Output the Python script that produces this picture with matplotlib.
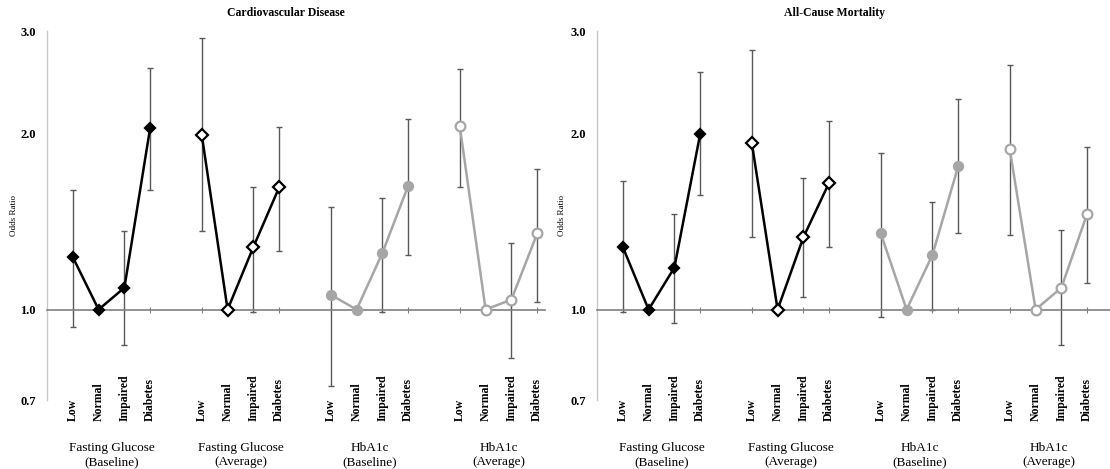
import numpy as np
import matplotlib
matplotlib.use("Agg")
import matplotlib.pyplot as plt
import matplotlib.transforms as mtransforms

plt.rcParams['font.family'] = ['Liberation Serif', 'DejaVu Serif']

categories = ["Low", "Normal", "Impaired", "Diabetes"]
groups = ["Fasting Glucose\n(Baseline)", "Fasting Glucose\n(Average)",
          "HbA1c\n(Baseline)", "HbA1c\n(Average)"]
panel_titles = ["Cardiovascular Disease", "All-Cause Mortality"]
ytick_vals = [0.7, 1.0, 2.0, 3.0]
ytick_labels = ["0.7", "1.0", "2.0", "3.0"]

# Cardiovascular disease: odds ratio, lower CI, upper CI (None = reference)
cvd_or = [[1.23, 1.00, 1.09, 2.05],
          [1.99, 1.00, 1.28, 1.62],
          [1.06, 1.00, 1.25, 1.63],
          [2.06, 1.00, 1.04, 1.35]]
cvd_lo = [[0.935, None, 0.87, 1.60],
          [1.365, None, 0.99, 1.26],
          [0.74, None, 0.99, 1.24],
          [1.62, None, 0.825, 1.03]]
cvd_hi = [[1.60, None, 1.365, 2.59],
          [2.92, None, 1.62, 2.055],
          [1.50, None, 1.55, 2.12],
          [2.58, None, 1.30, 1.74]]

# All-cause mortality
acm_or = [[1.28, 1.00, 1.18, 2.00],
          [1.93, 1.00, 1.33, 1.65],
          [1.35, 1.00, 1.24, 1.76],
          [1.88, 1.00, 1.09, 1.46]]
acm_lo = [[0.99, None, 0.95, 1.57],
          [1.33, None, 1.05, 1.28],
          [0.97, None, 1.00, 1.35],
          [1.34, None, 0.87, 1.11]]
acm_hi = [[1.66, None, 1.46, 2.55],
          [2.78, None, 1.68, 2.105],
          [1.855, None, 1.53, 2.29],
          [2.62, None, 1.367, 1.90]]

styles = [
    dict(color='black', marker='D', mfc='black', mec='black', ms=5.0),
    dict(color='black', marker='D', mfc='white', mec='black', ms=6.0),
    dict(color='#a6a6a6', marker='o', mfc='#a6a6a6', mec='#a6a6a6', ms=6.5),
    dict(color='#a6a6a6', marker='o', mfc='white', mec='#a6a6a6', ms=7.0),
]

fig = plt.figure(figsize=(11.10, 4.69), dpi=100)
axes_rects = [[47/1110, 69/469, 498/1110, 369/469],
              [597/1110, 69/469, 513/1110, 369/469]]
xlims = [(0, 498/25.8), (0, 513/25.8)]
title_x = [286/1110, 835/1110]
ylabel_x = [14/1110, 562/1110]

datasets = [(cvd_or, cvd_lo, cvd_hi), (acm_or, acm_lo, acm_hi)]

for p in range(2):
    ax = fig.add_axes(axes_rects[p])
    ors, los, his = datasets[p]
    for g in range(4):
        xs = [1 + g * 5 + i for i in range(4)]
        st = styles[g]
        # error bars
        for i in range(4):
            if los[g][i] is None:
                continue
            y = ors[g][i]
            ax.errorbar([xs[i]], [y], yerr=[[y - los[g][i]], [his[g][i] - y]],
                        fmt='none', ecolor='#595959', elinewidth=1.0,
                        capsize=2, capthick=1.0, zorder=2)
        ax.plot(xs, ors[g], color=st['color'], lw=1.8, marker=st['marker'],
                mfc=st['mfc'], mec=st['mec'], ms=st['ms'], mew=1.6, zorder=3)
        # category labels
        trans = mtransforms.blended_transform_factory(ax.transData, ax.transAxes)
        for i, c in enumerate(categories):
            ax.text(xs[i], -0.058, c, rotation=90, ha='center', va='bottom',
                    fontsize=8.5, fontweight='bold', transform=trans)
        ax.text(xs[1] + 0.5, -0.115, groups[g], ha='center', va='top',
                fontsize=9.5, transform=trans, linespacing=1.15)

    ax.set_yscale('log')
    ax.set_ylim(0.7, 3.0)
    ax.set_xlim(*xlims[p])
    ax.yaxis.set_minor_locator(matplotlib.ticker.NullLocator())
    ax.set_yticks(ytick_vals)
    ax.set_yticklabels(ytick_labels, fontsize=9, fontweight='bold')
    ax.tick_params(axis='y', length=0, pad=8)
    ax.set_xticks([1 + g * 5 + i for g in range(4) for i in range(4)])
    ax.tick_params(axis='x', direction='inout', length=4, width=0.8,
                   color='#808080', labelbottom=False)
    for s in ['top', 'right']:
        ax.spines[s].set_visible(False)
    ax.spines['left'].set_color('#c8c8c8')
    ax.spines['left'].set_linewidth(1.0)
    ax.spines['bottom'].set_position(('data', 1.0))
    ax.spines['bottom'].set_color('#808080')
    ax.spines['bottom'].set_linewidth(1.2)
    ax.patch.set_alpha(0)

    fig.text(title_x[p], 1 - 13/469, panel_titles[p], ha='center', va='center',
             fontsize=8.5, fontweight='bold')
    fig.text(ylabel_x[p], 1 - 215/469, "Odds Ratio", rotation=90,
             ha='center', va='center', fontsize=6.5)

fig.savefig("out.png", dpi=100)
